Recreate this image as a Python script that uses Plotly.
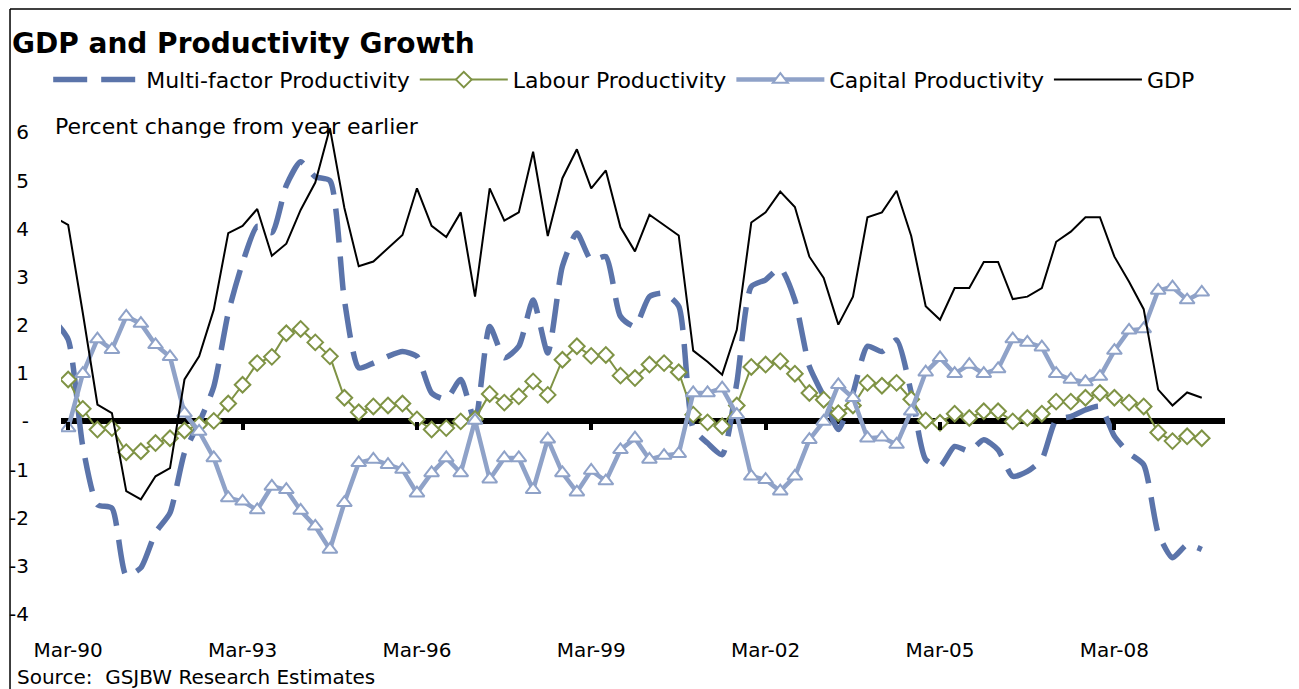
import plotly.graph_objects as go
import pandas as pd

# quarterly, Dec-89 .. Sep-09 (Dec-89 only sits under the left edge of the plot)
quarters = pd.date_range("1989-12-01", periods=80, freq="QS-DEC")

multi_factor = [
    2.10,
    1.70, -0.52, -1.73, -1.80, -3.20, -3.04, -2.31, -1.90, -0.65, -0.03,
    0.72, 2.25, 3.29, 4.05, 3.92, 4.90, 5.39, 5.08, 5.00, 2.52,
    1.11, 1.21, 1.35, 1.45, 1.35, 0.59, 0.46, 0.87, 0.00, 1.97,
    1.32, 1.56, 2.52, 1.42, 3.22, 3.91, 3.35, 3.42, 2.18, 1.97,
    2.59, 2.66, 2.39, -0.15, -0.45, -0.69, 0.80, 2.80, 2.94, 3.18,
    2.52, 1.14, 0.52, -0.17, 0.59, 1.56, 1.45, 1.69, 0.60, -0.79,
    -0.93, -0.52, -0.62, -0.38, -0.59, -1.14, -1.04, -0.79, 0.03, 0.10,
    0.24, 0.31, -0.31, -0.66, -0.90, -2.32, -2.83, -2.56, -2.66,
]

labour = [
    None,
    0.87, 0.26, -0.17, -0.14, -0.64, -0.62, -0.45, -0.35, -0.19, -0.07,
    0.01, 0.37, 0.76, 1.21, 1.34, 1.83, 1.92, 1.64, 1.35, 0.49,
    0.19, 0.31, 0.33, 0.37, 0.04, -0.17, -0.14, 0.00, 0.05, 0.57,
    0.39, 0.52, 0.83, 0.55, 1.28, 1.56, 1.36, 1.38, 0.95, 0.90,
    1.18, 1.21, 1.02, 0.14, -0.02, -0.10, 0.33, 1.13, 1.18, 1.25,
    0.99, 0.59, 0.45, 0.17, 0.33, 0.80, 0.74, 0.80, 0.46, 0.02,
    -0.03, 0.16, 0.07, 0.21, 0.21, 0.00, 0.07, 0.16, 0.41, 0.41,
    0.49, 0.59, 0.49, 0.39, 0.31, -0.23, -0.41, -0.31, -0.35,
]

capital = [
    None,
    -0.14, 0.99, 1.71, 1.49, 2.18, 2.03, 1.59, 1.34, 0.17, -0.21,
    -0.76, -1.59, -1.66, -1.84, -1.35, -1.42, -1.85, -2.18, -2.66, -1.69,
    -0.86, -0.79, -0.90, -1.00, -1.49, -1.07, -0.76, -1.07, 0.02, -1.20,
    -0.76, -0.76, -1.42, -0.37, -1.07, -1.47, -1.02, -1.24, -0.59, -0.35,
    -0.79, -0.71, -0.67, 0.59, 0.59, 0.69, 0.14, -1.14, -1.21, -1.45,
    -1.14, -0.38, 0.00, 0.76, 0.49, -0.35, -0.33, -0.48, 0.21, 1.02,
    1.32, 0.99, 1.18, 0.99, 1.09, 1.71, 1.64, 1.54, 0.99, 0.87,
    0.82, 0.93, 1.47, 1.89, 1.92, 2.72, 2.79, 2.52, 2.68,
]

gdp = [
    4.25,
    4.08, 2.25, 0.35, 0.17, -1.45, -1.62, -1.14, -0.97, 0.87, 1.35,
    2.32, 3.91, 4.06, 4.41, 3.44, 3.69, 4.39, 4.96, 6.09, 4.43,
    3.22, 3.32, 3.60, 3.87, 4.84, 4.06, 3.83, 4.34, 2.59, 4.84,
    4.17, 4.34, 5.60, 3.85, 5.05, 5.65, 4.84, 5.21, 4.03, 3.53,
    4.29, 4.08, 3.86, 1.47, 1.24, 0.97, 1.90, 4.13, 4.34, 4.77,
    4.45, 3.42, 2.98, 2.01, 2.59, 4.24, 4.34, 4.79, 3.85, 2.39,
    2.11, 2.77, 2.77, 3.31, 3.31, 2.54, 2.59, 2.77, 3.73, 3.94,
    4.24, 4.24, 3.42, 2.90, 2.33, 0.66, 0.33, 0.60, 0.49,
]

y_ticks = [6, 5, 4, 3, 2, 1, 0, -1, -2, -3, -4]
y_tick_text = ["6", "5", "4", "3", "2", "1", "-", "-1", "-2", "-3", "-4"]

FONT = "DejaVu Sans, Noto Sans, sans-serif"
x_range = ["1990-01-15", "2010-01-25"]
y_range = [-4, 6.3]

# the page body adds an 8px margin, so the figure is 8px smaller each way
W, H = 1291, 681

fig = go.Figure()

fig.add_trace(go.Scatter(
    x=quarters, y=multi_factor, name="Multi-factor Productivity",
    mode="lines", line=dict(color="#5b74aa", width=5.5, dash="34px,14px",
                            shape="spline", smoothing=0.6),
))
fig.add_trace(go.Scatter(
    x=quarters, y=labour, name="Labour Productivity",
    mode="lines+markers", line=dict(color="#7f9345", width=2),
    marker=dict(symbol="diamond", size=12, color="white",
                line=dict(color="#7f9345", width=2)),
))
fig.add_trace(go.Scatter(
    x=quarters, y=capital, name="Capital Productivity",
    mode="lines+markers", line=dict(color="#8fa2c8", width=4.5),
    marker=dict(symbol="triangle-up", size=13, color="white",
                line=dict(color="#8fa2c8", width=2)),
))
fig.add_trace(go.Scatter(
    x=quarters, y=gdp, name="GDP",
    mode="lines", line=dict(color="black", width=2),
))
# helper trace so the tick axis sitting on the zero line gets drawn
fig.add_trace(go.Scatter(
    x=[quarters[1]], y=[0], xaxis="x2", mode="markers",
    marker=dict(opacity=0), showlegend=False, hoverinfo="skip",
))

fig.update_layout(
    width=W, height=H,
    margin=dict(l=53, r=74, t=110, b=75, autoexpand=False),
    paper_bgcolor="white", plot_bgcolor="white",
    font=dict(family=FONT, size=20, color="black"),
    title=dict(text="<b>GDP and Productivity Growth</b>",
               font=dict(family=FONT, size=28, color="black"),
               x=4 / W, xanchor="left", xref="container",
               y=1 - 35 / H, yanchor="middle", yref="container"),
    showlegend=True,
    legend=dict(orientation="h", x=-0.011, xanchor="left", y=1.077,
                yanchor="middle", itemwidth=88, font=dict(size=22),
                bgcolor="rgba(0,0,0,0)", tracegroupgap=0),
    xaxis=dict(type="date", range=x_range, tick0="1990-03-01", dtick="M36",
               tickformat="%b-%y", showgrid=False, showline=False,
               zeroline=False, ticks="outside", ticklen=18,
               tickcolor="rgba(0,0,0,0)", automargin=False),
    xaxis2=dict(type="date", range=x_range, overlaying="x", anchor="free",
                position=(0 - y_range[0]) / (y_range[1] - y_range[0]),
                side="bottom", tick0="1990-03-01", dtick="M36",
                showticklabels=False, showgrid=False, showline=False,
                zeroline=False, ticks="outside", ticklen=8, tickwidth=4,
                tickcolor="black", automargin=False),
    yaxis=dict(range=y_range, tickvals=y_ticks, ticktext=y_tick_text,
               showgrid=False, showline=False, zeroline=True,
               zerolinecolor="black", zerolinewidth=6,
               ticks="outside", ticklen=27, tickcolor="rgba(0,0,0,0)",
               automargin=False),
    annotations=[
        dict(text="Percent change from year earlier", xref="paper",
             yref="paper", x=-0.007, y=0.982, xanchor="left",
             yanchor="middle", showarrow=False, font=dict(size=22)),
        dict(text="Source:  GSJBW Research Estimates", xref="paper",
             yref="paper", x=-0.0395, y=-0.127, xanchor="left",
             yanchor="middle", showarrow=False, font=dict(size=20)),
    ],
    shapes=[
        dict(type="line", xref="paper", yref="paper", x0=-0.0438, x1=1.1,
             y0=1.2198, y1=1.2198, line=dict(color="black", width=1.5)),
        dict(type="line", xref="paper", yref="paper", x0=-0.0438, x1=-0.0438,
             y0=1.2198, y1=-0.2, line=dict(color="black", width=1.5)),
    ],
)

fig.write_html("out.html")
